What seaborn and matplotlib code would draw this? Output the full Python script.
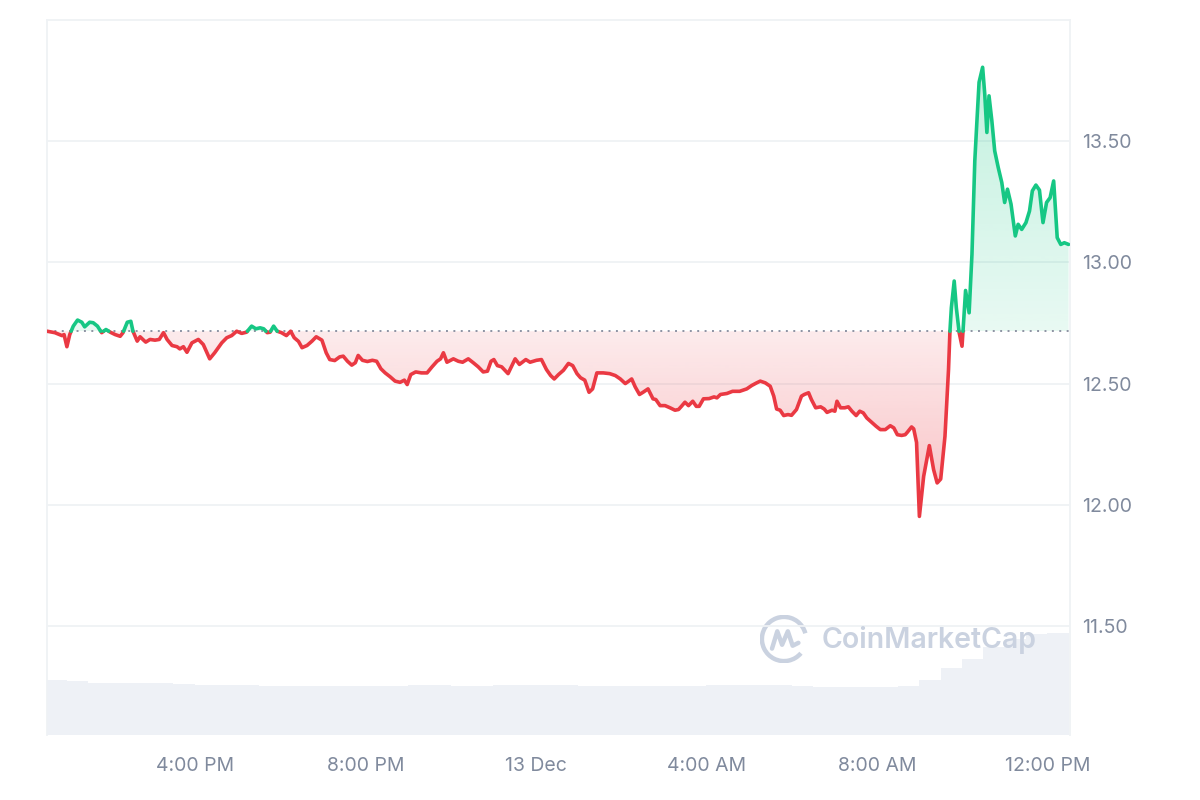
import numpy as np
import pandas as pd
import matplotlib
matplotlib.use("Agg")
import matplotlib.pyplot as plt
import matplotlib.dates as mdates
import matplotlib.colors as mcolors
from matplotlib.path import Path
from matplotlib.patches import Arc
import seaborn as sns

# price trace, minutes after 12 Dec 12:30 PM
start = pd.Timestamp("2024-12-12 12:30")
minutes = [
    2, 13, 23, 26, 30, 34, 39, 45, 51, 55, 62, 67, 73, 79, 85, 91, 98, 105, 109, 115,
    120, 123, 129, 133, 138, 141, 147, 154, 160, 166, 171, 178, 185, 189, 194, 199, 206, 215, 222, 231,
    238, 248, 255, 262, 269, 276, 283, 290, 296, 302, 307, 312, 316, 321, 326, 332, 339, 345, 350, 356,
    361, 368, 375, 381, 389, 395, 400, 407, 414, 419, 425, 431, 436, 440, 446, 453, 460, 466, 472, 478,
    485, 492, 499, 505, 509, 514, 521, 529, 537, 544, 551, 556, 560, 565, 574, 581, 587, 595, 602, 609,
    616, 622, 627, 631, 636, 642, 651, 656, 661, 667, 676, 682, 691, 698, 705, 711,
    716, 722, 729, 736, 742, 748, 753, 759, 765, 770, 776, 785, 794, 802, 809, 816, 820, 825, 830, 836,
    841, 848, 855, 859, 865, 872, 879, 886, 891, 895, 900, 905, 911, 916, 920, 926, 934, 941, 945, 950,
    959, 967, 977, 987, 994, 1001, 1006, 1013, 1020, 1025, 1029, 1034, 1039, 1045, 1050, 1057, 1064,
    1068, 1074, 1078, 1084, 1091, 1096, 1100, 1107, 1111, 1114, 1119, 1125, 1130, 1135, 1141, 1146, 1151, 1156, 1163, 1169,
    1175, 1182, 1189, 1194, 1199, 1205, 1210, 1213, 1219, 1222, 1226, 1230, 1236, 1244, 1250, 1255, 1260, 1266, 1271,
    1273, 1275, 1279, 1282, 1286, 1290, 1292, 1295, 1300, 1304, 1308, 1311, 1314, 1319, 1322, 1325, 1328, 1332, 1336, 1341,
    1346, 1350, 1354, 1359, 1365, 1369, 1374, 1380, 1385, 1389, 1394, 1399, 1404, 1409, 1414, 1419, 1424, 1429, 1434, 1440,
]
prices = [
    12.716, 12.710, 12.698, 12.702, 12.652, 12.702, 12.737, 12.762, 12.753, 12.734, 12.753, 12.751, 12.737, 12.710, 12.723, 12.712, 12.702, 12.695, 12.710, 12.753,
    12.757, 12.716, 12.675, 12.693, 12.679, 12.671, 12.682, 12.679, 12.682, 12.710, 12.682, 12.657, 12.652, 12.643, 12.652, 12.629, 12.668, 12.682, 12.661, 12.602,
    12.627, 12.668, 12.689, 12.698, 12.716, 12.707, 12.712, 12.737, 12.726, 12.730, 12.726, 12.710, 12.712, 12.737, 12.716, 12.710, 12.698, 12.716, 12.689, 12.674,
    12.648, 12.657, 12.675, 12.693, 12.679, 12.627, 12.599, 12.595, 12.610, 12.613, 12.592, 12.576, 12.586, 12.616, 12.596, 12.591, 12.596, 12.592, 12.561, 12.544,
    12.528, 12.510, 12.505, 12.514, 12.496, 12.537, 12.548, 12.544, 12.544, 12.569, 12.592, 12.602, 12.627, 12.588, 12.602, 12.592, 12.588, 12.602, 12.586, 12.569,
    12.548, 12.551, 12.592, 12.599, 12.574, 12.569, 12.541, 12.572, 12.602, 12.579, 12.599, 12.588, 12.596, 12.599, 12.558, 12.533,
    12.519, 12.537, 12.555, 12.583, 12.574, 12.541, 12.524, 12.514, 12.464, 12.478, 12.544, 12.544, 12.541, 12.533, 12.519, 12.500, 12.508, 12.519, 12.486, 12.455,
    12.464, 12.478, 12.437, 12.434, 12.409, 12.409, 12.400, 12.390, 12.393, 12.406, 12.423, 12.409, 12.427, 12.406, 12.406, 12.437, 12.438, 12.445, 12.441, 12.455,
    12.459, 12.468, 12.468, 12.478, 12.492, 12.503, 12.510, 12.503, 12.489, 12.448, 12.395, 12.390, 12.368, 12.372, 12.369, 12.393, 12.448,
    12.455, 12.462, 12.434, 12.400, 12.404, 12.395, 12.381, 12.390, 12.386, 12.427, 12.400, 12.400, 12.404, 12.386, 12.368, 12.386, 12.379, 12.358, 12.340, 12.324,
    12.310, 12.310, 12.326, 12.317, 12.289, 12.286, 12.289, 12.299, 12.321, 12.313, 12.257, 11.952, 12.117, 12.244, 12.145, 12.090, 12.106, 12.282, 12.558,
    12.716, 12.813, 12.923, 12.813, 12.710, 12.654, 12.744, 12.884, 12.792, 13.033, 13.419, 13.584, 13.743, 13.805, 13.694, 13.536, 13.687, 13.584, 13.460, 13.391,
    13.329, 13.247, 13.302, 13.240, 13.109, 13.157, 13.136, 13.164, 13.212, 13.295, 13.319, 13.298, 13.164, 13.247, 13.267, 13.336, 13.102, 13.074, 13.081, 13.074,
]

# volume, one value per 30 minutes (relative units)
volume = [
    55, 54, 52, 52, 52, 52, 51, 50, 50, 50, 49, 49, 49, 49, 49, 49,
    49, 50, 50, 49, 49, 50, 50, 50, 50, 49, 49, 49, 49, 49, 49, 50,
    50, 50, 50, 49, 48, 48, 48, 48, 49, 55, 67, 76, 88, 96, 101, 102,
]

y_ticks = [11.5, 12.0, 12.5, 13.0, 13.5]
x_ticks = ["2024-12-12 16:00", "2024-12-12 20:00", "2024-12-13 00:00",
           "2024-12-13 04:00", "2024-12-13 08:00", "2024-12-13 12:00"]
x_labels = ["4:00 PM", "8:00 PM", "13 Dec", "4:00 AM", "8:00 AM", "12:00 PM"]

GREEN = "#16c784"
RED = "#ea3943"
GREY = "#808a9d"
LIGHT = "#eff2f5"

sns.set_style("white")
plt.rcParams["font.family"] = ["Inter", "DejaVu Sans"]

t = np.array(minutes, dtype=float)
p = np.array(prices)
base = p[0]

# add the points where the line crosses the opening price, so colours split cleanly
tt, pp = [t[0]], [p[0]]
for i in range(1, len(t)):
    d0, d1 = p[i - 1] - base, p[i] - base
    if d0 * d1 < 0:
        f = d0 / (d0 - d1)
        tt.append(t[i - 1] + f * (t[i] - t[i - 1]))
        pp.append(base)
    tt.append(t[i])
    pp.append(p[i])
tt = np.array(tt)
pp = np.array(pp)

rows = []
run = 0
cur = None
for k in range(len(tt)):
    s = "up" if pp[k] > base else ("down" if pp[k] < base else None)
    if s is not None and cur is not None and s != cur:
        run += 1
        rows.append((tt[k - 1], pp[k - 1], s, run))
    if s is not None:
        cur = s
    rows.append((tt[k], pp[k], cur or "down", run))
df = pd.DataFrame(rows, columns=["m", "price", "side", "run"])
df["time"] = start + pd.to_timedelta(df["m"], unit="min")

fig = plt.figure(figsize=(12, 8), dpi=100)
ax = fig.add_axes([47 / 1200, 65 / 800, 1023 / 1200, 715 / 800])
ax2 = ax.twinx()
ax.set_zorder(2)
ax2.set_zorder(1)
ax.patch.set_visible(False)

# volume bars in the back
bar_t = mdates.date2num(start + pd.to_timedelta(np.arange(len(volume)) * 30 + 15, unit="min"))
ax2.bar(bar_t, volume, width=30 / 1440, color="#eef1f6", linewidth=0)
ax2.set_ylim(0, 715)
ax2.set_yticks([])
ax2.tick_params(right=False)
for sp in ax2.spines.values():
    sp.set_visible(False)

sns.lineplot(data=df, x="time", y="price", hue="side", units="run", estimator=None,
             palette={"up": GREEN, "down": RED}, linewidth=2.6, legend=False,
             sort=False, ax=ax, zorder=4)

xnum = mdates.date2num(pd.to_datetime(start) + pd.to_timedelta(tt, unit="min"))


def gradient_area(lo, hi, color, a_bottom, a_top):
    coll = ax.fill_between(xnum, lo, hi, facecolor="none", edgecolor="none")
    path = Path.make_compound_path(*coll.get_paths())
    n = 256
    rgba = np.zeros((n, 1, 4))
    rgba[..., :3] = mcolors.to_rgb(color)
    rgba[:, 0, 3] = np.linspace(a_bottom, a_top, n)
    ymin, ymax = min(lo.min(), hi.min()), max(lo.max(), hi.max())
    im = ax.imshow(rgba, aspect="auto", origin="lower", interpolation="bilinear",
                   extent=[xnum.min(), xnum.max(), ymin, ymax], zorder=1)
    im.set_clip_path(path, transform=ax.transData)


gradient_area(np.full_like(pp, base), np.maximum(pp, base), GREEN, 0.10, 0.26)
gradient_area(np.minimum(pp, base), np.full_like(pp, base), RED, 0.32, 0.10)

ax.axhline(base, color="#8d93a3", linewidth=1.4, linestyle=(0, (1, 2.8)), zorder=3)

ax.set_xlim(start + pd.Timedelta(minutes=2), start + pd.Timedelta(minutes=1442))
ax.set_ylim(11.05, 14.0)

ax.yaxis.tick_right()
ax.set_yticks(y_ticks)
ax.set_yticklabels([f"{v:.2f}" for v in y_ticks])
ax.set_xticks(pd.to_datetime(x_ticks))
ax.set_xticklabels(x_labels)
ax.tick_params(axis="y", length=0, pad=9, labelsize=14, labelcolor=GREY)
ax.tick_params(axis="x", length=0, pad=16, labelsize=14, labelcolor=GREY)
ax.set_xlabel("")
ax.set_ylabel("")
ax.grid(axis="y", color=LIGHT, linewidth=1.3)
ax.grid(axis="x", visible=False)
for name, sp in ax.spines.items():
    sp.set_color(LIGHT)
    sp.set_linewidth(1.3)
ax.spines["bottom"].set_visible(False)

# watermark
wm = "#cad2e0"
fig.text(822 / 1200, 1 - 640 / 800, "CoinMarketCap", ha="left", va="center",
         fontsize=20.5, fontweight="semibold", color=wm)
lax = fig.add_axes([760 / 1200, 1 - 663 / 800, 48 / 1200, 48 / 800])
lax.set_xlim(0, 1)
lax.set_ylim(0, 1)
lax.axis("off")
lax.add_patch(Arc((0.5, 0.5), 0.92, 0.92, theta1=15, theta2=320, color=wm, linewidth=3.2))
lax.plot([0.25, 0.36, 0.46, 0.58, 0.68, 0.8], [0.3, 0.66, 0.38, 0.66, 0.36, 0.42],
         color=wm, linewidth=3.2, solid_joinstyle="round", solid_capstyle="round")

fig.savefig("out.png", dpi=100, facecolor="white")
